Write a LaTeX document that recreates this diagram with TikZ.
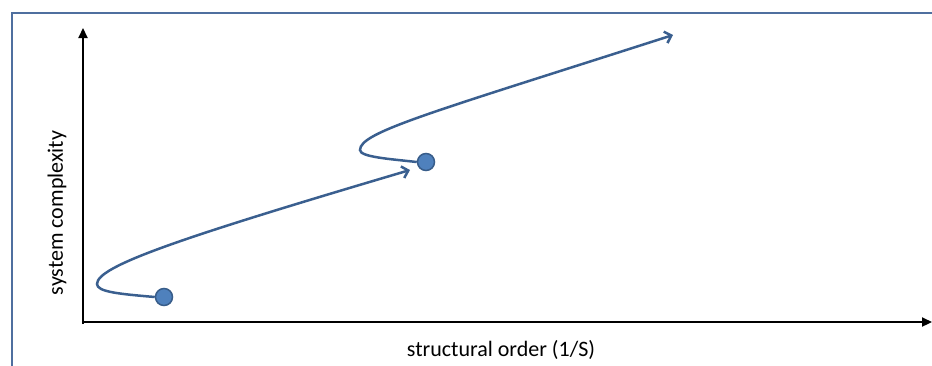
\documentclass[tikz,border=0pt]{standalone}
\usepackage{fontspec}
\setmainfont{Carlito}
\usetikzlibrary{arrows.meta}
\definecolor{framec}{HTML}{4F6F9F}
\definecolor{curvec}{HTML}{3A5F8F}
\definecolor{dotfill}{HTML}{4F81BD}
\definecolor{dotline}{HTML}{385D8A}
\tikzset{
  axis/.style={line width=2.2pt, black, -{Triangle[length=10pt,width=9pt]}},
  trend/.style={line width=2.5pt, curvec, -{Straight Barb[length=6pt,width=12pt,line width=2.5pt]}},
  dot/.style={circle, fill=dotfill, draw=dotline, line width=1.5pt, minimum size=17pt, inner sep=0pt},
  lbl/.style={font=\fontsize{22}{26}\selectfont, text=black, inner sep=0pt}
}
\begin{document}
\begin{tikzpicture}[x=1pt,y=-1pt]
\useasboundingbox (0,0) rectangle (932,365);
% frame
\draw[framec, line width=2.2pt] (12,367) -- (12,13) -- (934,13);
% axes
\coordinate (ytop) at (83,28);
\coordinate (xend) at (932,322);
\draw[axis] (83,324) -- (ytop);
\draw[axis] (82,322) -- (xend);
% labels
\node[lbl, rotate=90] (ylab) at (57,213) {system complexity};
\node[lbl] (xlab) at (501,350) {structural order (1/S)};
% dots
\node[dot] (d1) at (164,297) {};
\node[dot] (d2) at (426,162) {};
\coordinate (a1) at (410,170);
\coordinate (a2) at (673,35);
% curves
\draw[trend] (d1.west) .. controls (120,294) and (97,292) .. (97,284)
  .. controls (97,266) and (180,238) .. (a1);
\draw[trend] (d2.west) .. controls (390,159) and (360,157) .. (360,150)
  .. controls (360,132) and (430,113) .. (a2);
\end{tikzpicture}
\end{document}
